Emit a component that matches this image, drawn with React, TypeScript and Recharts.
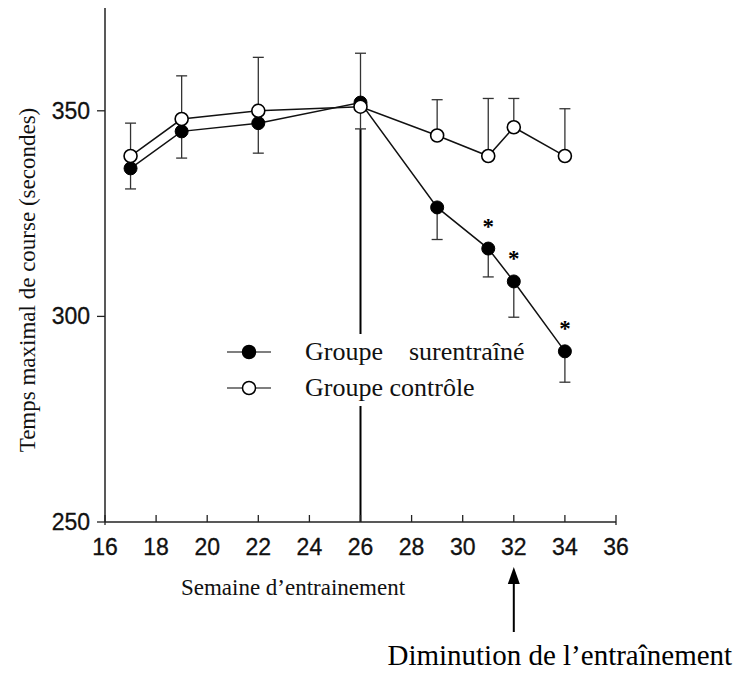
import React from "react";
import {
  ComposedChart,
  Line,
  XAxis,
  YAxis,
  ErrorBar,
  ReferenceLine,
  Legend,
  Label,
  LabelList,
} from "recharts";

const weeks = [17, 19, 22, 26, 29, 31, 32, 34];
const trained = [336, 345, 347, 352, 326.5, 316.5, 308.5, 291.5];
const trainedErrLow = [5, 6.5, 7.3, 6.4, 7.8, 6.9, 8.7, 7.5];
const control = [339, 348, 350, 351, 344, 339, 346, 339];
const controlErrHigh = [8, 10.5, 13, 13, 8.7, 14, 7, 11.5];
const significant = [false, false, false, false, false, true, true, true];

const xTicks = [16, 18, 20, 22, 24, 26, 28, 30, 32, 34, 36];
const yTicks = [250, 300, 350];
const legendNames = ["Groupe\u2003surentraîné", "Groupe contrôle"];

const stopWeek = 26; // fin de l'augmentation, trait vertical
const arrowWeek = 32;

const data = weeks.map((w, i) => ({
  week: w,
  trained: trained[i],
  trainedErr: [trainedErrLow[i], 0],
  control: control[i],
  controlErr: [0, controlErrHigh[i]],
}));

const serif = '"Liberation Serif", "Times New Roman", serif';
const sans = '"Liberation Sans", Arial, sans-serif';

const XTick = (props: any) => {
  const { x, y, payload } = props;
  const v = payload.value;
  const edge = v === xTicks[0] || v === xTicks[xTicks.length - 1];
  return (
    <g>
      <line x1={x} x2={x} y1={y - 7} y2={edge ? y + 3 : y} stroke="#222" strokeWidth={1.3} />
      <text x={x} y={y + 33} textAnchor="middle" fontFamily={sans} fontSize={23} fill="#111" stroke="#111" strokeWidth={0.3}>
        {v}
      </text>
      {v === arrowWeek && (
        <g>
          <line x1={x} x2={x} y1={y + 58} y2={y + 110} stroke="#000" strokeWidth={2} />
          <polygon points={`${x},${y + 45} ${x - 6},${y + 62} ${x + 6},${y + 62}`} fill="#000" />
          <text x={x + 46} y={y + 143} textAnchor="middle" fontFamily={serif} fontSize={29} fill="#000">
            Diminution de l’entraînement
          </text>
        </g>
      )}
    </g>
  );
};

const YTick = (props: any) => {
  const { x, y, payload } = props;
  return (
    <text x={x + 1} y={y} dy={8} textAnchor="end" fontFamily={sans} fontSize={23} fill="#111" stroke="#111" strokeWidth={0.3}>
      {payload.value}
    </text>
  );
};

const Star = (props: any) => {
  const { x, y, index } = props;
  if (!significant[index]) return null;
  return (
    <text x={x} y={y - 15} textAnchor="middle" fontFamily={serif} fontWeight="bold" fontSize={23} fill="#000">
      *
    </text>
  );
};

const renderLegend = () => (
  <div style={{ fontFamily: serif, fontSize: 26, color: "#111", background: "#fff", lineHeight: "36px" }}>
    {legendNames.map((name, i) => (
      <div key={name} style={{ display: "flex", alignItems: "center" }}>
        <svg width={44} height={20} style={{ marginRight: 34 }}>
          <line x1={0} x2={44} y1={10} y2={10} stroke="#555" strokeWidth={1.5} />
          <circle cx={22} cy={10} r={6.5} fill={i === 0 ? "#000" : "#fff"} stroke="#000" strokeWidth={1.5} />
        </svg>
        <span>{name}</span>
      </div>
    ))}
  </div>
);

export default function App() {
  return (
    <div style={{ position: "absolute", left: 0, top: 0, background: "#fff" }}>
      <ComposedChart width={740} height={673} data={data} margin={{ top: 8, right: 124, bottom: 121, left: 45 }}>
        <XAxis
          dataKey="week"
          type="number"
          domain={[16, 36]}
          ticks={xTicks}
          interval={0}
          height={30}
          tickSize={0}
          tickMargin={0}
          tickLine={false}
          tick={<XTick />}
          axisLine={{ stroke: "#222", strokeWidth: 1.5 }}
        >
          <Label
            content={(p: any) => (
              <text x={p.viewBox.x + 188} y={p.viewBox.y + 73} textAnchor="middle" fontFamily={serif} fontSize={23} fill="#111">
                Semaine d’entrainement
              </text>
            )}
          />
        </XAxis>
        <YAxis
          type="number"
          domain={[250, 375]}
          ticks={yTicks}
          width={60}
          tickSize={8}
          tickMargin={8}
          tick={<YTick />}
          tickLine={{ stroke: "#222", strokeWidth: 1.3 }}
          axisLine={{ stroke: "#222", strokeWidth: 1.5 }}
        >
          <Label
            content={() => (
              <text
                x={30}
                y={280}
                transform="rotate(-90 30 280)"
                textAnchor="middle"
                dominantBaseline="middle"
                fontFamily={serif}
                fontSize={23}
                fill="#111"
              >
                Temps maximal de course (secondes)
              </text>
            )}
          />
        </YAxis>
        <ReferenceLine
          segment={[
            { x: stopWeek, y: trained[3] - trainedErrLow[3] },
            { x: stopWeek, y: 250 },
          ]}
          stroke="#000"
          strokeWidth={2}
        />
        <Line
          dataKey="trained"
          stroke="#111"
          strokeWidth={1.5}
          isAnimationActive={false}
          dot={{ r: 6.5, fill: "#000", stroke: "#000", strokeWidth: 1 }}
          activeDot={false}
        >
          <ErrorBar dataKey="trainedErr" direction="y" width={5.5} stroke="#333" strokeWidth={1.3} />
          <LabelList dataKey="trained" content={<Star />} />
        </Line>
        <Line
          dataKey="control"
          stroke="#111"
          strokeWidth={1.5}
          isAnimationActive={false}
          dot={{ r: 6.5, fill: "#fff", stroke: "#000", strokeWidth: 1.6 }}
          activeDot={false}
        >
          <ErrorBar dataKey="controlErr" direction="y" width={5.5} stroke="#333" strokeWidth={1.3} />
        </Line>
        <Legend
          layout="vertical"
          align="center"
          verticalAlign="middle"
          content={renderLegend}
          wrapperStyle={{ left: 227, top: 334, width: 305 }}
        />
      </ComposedChart>
    </div>
  );
}
